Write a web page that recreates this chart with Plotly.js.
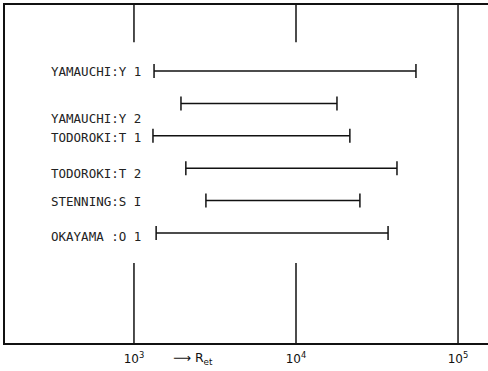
<!DOCTYPE html>
<html>
<head>
<meta charset="utf-8">
<script src="https://cdn.plot.ly/plotly-3.0.1.min.js"></script>
<style>html,body{margin:0;padding:0;background:#fff;}#chart{width:488px;height:371px;}</style>
</head>
<body>
<div id="chart"></div>
<script>
// Data
const series = ["YAMAUCHI:Y 1", "YAMAUCHI:Y 2", "TODOROKI:T 1", "TODOROKI:T 2", "STENNING:S I", "OKAYAMA :O 1"];
const reLow  = [1330, 1950, 1310, 2090, 2780, 1370];
const reHigh = [55000, 17900, 21500, 42000, 24800, 37000];
const tickVals = [1000, 10000, 100000];
const tickText = ["10<sup>3</sup>", "10<sup>4</sup>", "10<sup>5</sup>"];

// Layout-only label offsets (px)
const labelShift = [0, -15, -2, -5, -1, -4];

const traces = series.map((name, i) => ({
  type: 'scatter', mode: 'lines+markers',
  x: [reLow[i], reHigh[i]], y: [name, name],
  line: {color: '#111', width: 1.5},
  marker: {symbol: 'line-ns', size: 10, line: {color: '#111', width: 1.5}},
  hoverinfo: 'skip', showlegend: false
}));

const labelFont = {family: 'DejaVu Sans Mono', size: 12.5, color: '#222'};
const annotations = series.map((name, i) => ({
  xref: 'paper', yref: 'y', x: 0.091, y: name, yshift: labelShift[i],
  text: name, showarrow: false, xanchor: 'left', yanchor: 'middle', font: labelFont
}));
annotations.push({
  xref: 'paper', yref: 'paper', x: 0.39, y: 0, yshift: -15, xanchor: 'center', yanchor: 'middle',
  text: '⟶ R<sub>et</sub>', showarrow: false, font: {family: 'DejaVu Sans', size: 12.5, color: '#111'}
});

const shapes = [];
[1000, 10000].forEach(v => {
  shapes.push({type: 'line', xref: 'x', yref: 'paper', x0: v, x1: v, y0: 1, y1: 0.89, line: {color: '#111', width: 1.5}});
  shapes.push({type: 'line', xref: 'x', yref: 'paper', x0: v, x1: v, y0: 0, y1: 0.237, line: {color: '#111', width: 1.5}});
});
shapes.push({type: 'line', xref: 'x', yref: 'paper', x0: 100000, x1: 100000, y0: 0, y1: 1, line: {color: '#111', width: 1.5}});

const layout = {
  width: 488, height: 371,
  margin: {l: 5, r: 0, t: 5, b: 28},
  paper_bgcolor: '#fff', plot_bgcolor: '#fff',
  xaxis: {
    type: 'log', range: [2.204, 5.185],
    tickvals: tickVals, ticktext: tickText, ticks: '', ticklabelstandoff: 4,
    showgrid: false, zeroline: false,
    showline: true, mirror: true, linecolor: '#111', linewidth: 1.8,
    tickfont: {family: 'DejaVu Sans', size: 12, color: '#111'}
  },
  yaxis: {
    type: 'category', categoryarray: series, range: [8.4, -2.04],
    showticklabels: false, ticks: '', showgrid: false, zeroline: false,
    showline: true, linecolor: '#111', linewidth: 2
  },
  annotations: annotations,
  shapes: shapes
};

Plotly.newPlot('chart', traces, layout, {staticPlot: true, displayModeBar: false});
</script>
</body>
</html>
